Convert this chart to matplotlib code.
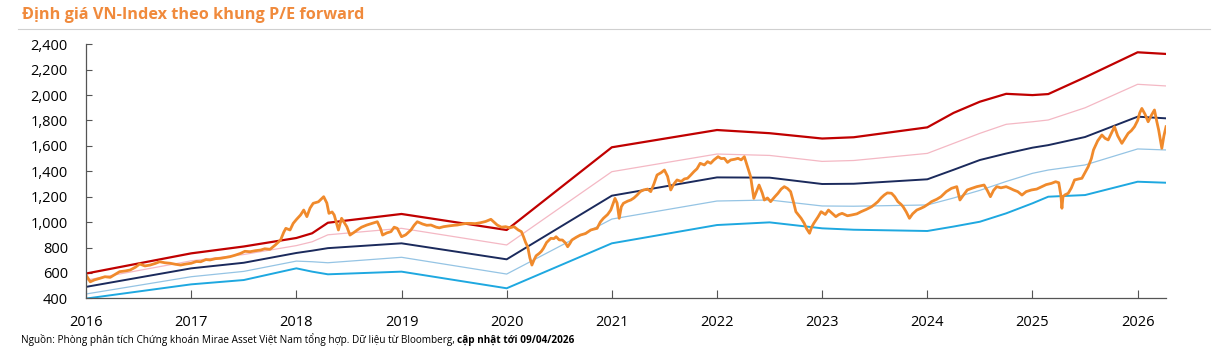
import matplotlib.pyplot as plt
from matplotlib.lines import Line2D

plt.rcParams['font.family'] = ['Open Sans', 'DejaVu Sans']

# band knots (decimal years) and values for each P/E band
band_t = [2016.0, 2017.0, 2017.5, 2018.0, 2018.15, 2018.3, 2019.0, 2020.0, 2021.0, 2022.0, 2022.5,
          2023.0, 2023.3, 2024.0, 2024.25, 2024.5, 2024.75, 2025.0, 2025.15, 2025.5, 2026.0, 2026.27]
band_red = [595, 754, 808, 875, 912, 995, 1064, 938, 1589, 1725, 1700,
            1658, 1668, 1746, 1860, 1948, 2010, 2000, 2008, 2140, 2337, 2324]
band_pink = [543, 695, 745, 815, 845, 900, 951, 820, 1397, 1536, 1525,
             1478, 1485, 1541, 1620, 1699, 1770, 1790, 1804, 1900, 2085, 2072]
band_navy = [490, 636, 680, 757, 775, 795, 833, 707, 1208, 1352, 1350,
             1300, 1302, 1337, 1412, 1489, 1540, 1586, 1606, 1670, 1830, 1817]
band_lblue = [434, 570, 612, 693, 688, 680, 723, 591, 1024, 1166, 1174,
              1127, 1125, 1135, 1190, 1250, 1320, 1384, 1410, 1450, 1576, 1568]
band_cyan = [398, 510, 544, 636, 610, 589, 610, 479, 833, 977, 998,
             951, 940, 930, 965, 1003, 1069, 1148, 1200, 1213, 1318, 1310]

# VN-Index
vn_t = [2016.00, 2016.04, 2016.08, 2016.13, 2016.18, 2016.23, 2016.28, 2016.32, 2016.37, 2016.42,
        2016.47, 2016.51, 2016.56, 2016.61, 2016.66, 2016.70, 2016.75, 2016.80, 2016.85, 2016.90,
        2016.95, 2017.00, 2017.05, 2017.09, 2017.14, 2017.18, 2017.23, 2017.28, 2017.33, 2017.37,
        2017.42, 2017.47, 2017.51, 2017.56, 2017.61, 2017.66, 2017.70, 2017.75, 2017.80, 2017.85,
        2017.88, 2017.90, 2017.94, 2017.97, 2018.00, 2018.04, 2018.07, 2018.10, 2018.13, 2018.16,
        2018.21, 2018.26, 2018.29, 2018.31, 2018.34, 2018.36, 2018.40, 2018.43, 2018.46, 2018.48,
        2018.51, 2018.55, 2018.58, 2018.62, 2018.67, 2018.72, 2018.77, 2018.80, 2018.82, 2018.86,
        2018.90, 2018.93, 2018.96, 2019.00, 2019.04, 2019.09, 2019.12, 2019.15, 2019.20, 2019.24,
        2019.28, 2019.33, 2019.36, 2019.40, 2019.45, 2019.50, 2019.53, 2019.58, 2019.62, 2019.66,
        2019.70, 2019.75, 2019.80, 2019.85, 2019.88, 2019.91, 2019.95, 2019.99, 2020.03, 2020.07,
        2020.11, 2020.14, 2020.16, 2020.18, 2020.20, 2020.22, 2020.24, 2020.26, 2020.28, 2020.31,
        2020.33, 2020.35, 2020.38, 2020.42, 2020.45, 2020.47, 2020.50, 2020.53, 2020.56, 2020.58,
        2020.60, 2020.62, 2020.66, 2020.70, 2020.75, 2020.80, 2020.83, 2020.86, 2020.89, 2020.92,
        2020.96, 2020.99, 2021.03, 2021.05, 2021.07, 2021.09, 2021.11, 2021.15, 2021.18, 2021.21,
        2021.24, 2021.27, 2021.30, 2021.34, 2021.37, 2021.40, 2021.43, 2021.47, 2021.50, 2021.53,
        2021.56, 2021.59, 2021.62, 2021.66, 2021.69, 2021.72, 2021.75, 2021.78, 2021.81, 2021.84,
        2021.88, 2021.91, 2021.94, 2021.97, 2022.01, 2022.04, 2022.07, 2022.10, 2022.13, 2022.17,
        2022.20, 2022.23, 2022.26, 2022.29, 2022.32, 2022.35, 2022.38, 2022.40, 2022.43, 2022.45,
        2022.48, 2022.51, 2022.55, 2022.58, 2022.61, 2022.64, 2022.67, 2022.70, 2022.73, 2022.75,
        2022.78, 2022.80, 2022.83, 2022.85, 2022.88, 2022.90, 2022.92, 2022.96, 2022.99, 2023.03,
        2023.06, 2023.10, 2023.13, 2023.16, 2023.19, 2023.24, 2023.28, 2023.33, 2023.37, 2023.42,
        2023.47, 2023.50, 2023.53, 2023.56, 2023.59, 2023.62, 2023.66, 2023.69, 2023.72, 2023.75,
        2023.77, 2023.80, 2023.83, 2023.86, 2023.90, 2023.94, 2023.97, 2024.02, 2024.04, 2024.09,
        2024.13, 2024.18, 2024.23, 2024.28, 2024.31, 2024.35, 2024.38, 2024.42, 2024.47, 2024.54,
        2024.57, 2024.60, 2024.63, 2024.66, 2024.70, 2024.75, 2024.79, 2024.82, 2024.86, 2024.90,
        2024.94, 2024.99, 2025.04, 2025.09, 2025.13, 2025.18, 2025.22, 2025.25, 2025.27, 2025.28,
        2025.29, 2025.31, 2025.34, 2025.37, 2025.40, 2025.44, 2025.47, 2025.50, 2025.53, 2025.56,
        2025.58, 2025.62, 2025.66, 2025.69, 2025.72, 2025.75, 2025.78, 2025.81, 2025.85, 2025.88,
        2025.91, 2025.94, 2025.97, 2026.00, 2026.02, 2026.04, 2026.07, 2026.10, 2026.13, 2026.16,
        2026.18, 2026.20, 2026.23, 2026.25, 2026.27]
vn_val = [583, 530, 545, 557, 570, 565, 590, 610, 615, 623,
          645, 670, 655, 662, 675, 688, 680, 676, 668, 662,
          670, 676, 690, 688, 705, 702, 712, 715, 722, 728,
          740, 754, 770, 767, 775, 780, 790, 786, 820, 859,
          920, 951, 938, 990, 1020, 1056, 1095, 1043, 1110, 1148,
          1160, 1200, 1150, 1069, 1080, 1056, 938, 1030, 990, 964,
          898, 920, 938, 960, 977, 990, 1003, 950, 898, 915,
          925, 960, 951, 885, 900, 938, 975, 1003, 985, 975,
          977, 960, 955, 964, 970, 975, 977, 985, 990, 990,
          988, 995, 1005, 1022, 1000, 977, 960, 964, 955, 964,
          938, 925, 885, 840, 806, 720, 662, 702, 735, 754,
          770, 794, 840, 872, 870, 885, 860, 859, 835, 806,
          830, 859, 880, 898, 910, 938, 945, 951, 1000, 1030,
          1060, 1095, 1187, 1150, 1030, 1120, 1148, 1165, 1174, 1190,
          1213, 1240, 1253, 1260, 1240, 1300, 1371, 1390, 1410, 1360,
          1253, 1300, 1332, 1320, 1340, 1345, 1370, 1397, 1420, 1463,
          1450, 1476, 1463, 1489, 1515, 1500, 1502, 1470, 1489, 1495,
          1502, 1490, 1515, 1436, 1357, 1187, 1250, 1292, 1230, 1174,
          1190, 1161, 1200, 1227, 1260, 1279, 1265, 1240, 1150, 1082,
          1050, 1030, 990, 951, 912, 960, 990, 1040, 1082, 1060,
          1095, 1065, 1043, 1060, 1069, 1050, 1056, 1065, 1082, 1100,
          1121, 1140, 1161, 1190, 1213, 1230, 1227, 1200, 1161, 1140,
          1121, 1080, 1030, 1065, 1095, 1109, 1121, 1148, 1161, 1180,
          1200, 1240, 1266, 1279, 1174, 1220, 1253, 1265, 1279, 1292,
          1250, 1200, 1250, 1279, 1270, 1279, 1265, 1253, 1240, 1213,
          1240, 1253, 1260, 1279, 1295, 1305, 1318, 1310, 1210, 1109,
          1200, 1215, 1227, 1270, 1332, 1340, 1345, 1390, 1436, 1500,
          1568, 1640, 1686, 1660, 1647, 1700, 1751, 1680, 1620, 1660,
          1699, 1720, 1751, 1800, 1860, 1895, 1850, 1790, 1840, 1883,
          1800, 1725, 1581, 1680, 1751]

year_ticks = list(range(2016, 2027))
y_ticks = list(range(400, 2401, 200))

fig = plt.figure(figsize=(12.22, 3.54), dpi=100)
ax = fig.add_axes([0.0704, 0.1573, 0.8838, 0.7176])

ax.plot(band_t, band_red, color='#C00000', lw=1.6)
ax.plot(band_t, band_pink, color='#F4B8C4', lw=0.9)
ax.plot(band_t, band_navy, color='#1B2A5C', lw=1.4)
ax.plot(band_t, band_lblue, color='#95C4E4', lw=0.9)
ax.plot(band_t, band_cyan, color='#1EA8E0', lw=1.4)
ax.plot(vn_t, vn_val, color='#F08A2C', lw=2.0)

ax.set_xlim(2016, 2026.27)
ax.set_ylim(400, 2400)
ax.set_xticks(year_ticks)
ax.set_yticks(y_ticks)
ax.set_yticklabels([f'{v:,}' for v in y_ticks])
ax.tick_params(axis='y', direction='in', length=4, pad=13, labelsize=10.5, color='#555555')
ax.tick_params(axis='x', direction='in', length=6, pad=12, labelsize=10.5, color='#555555')
for s in ['top', 'right']:
    ax.spines[s].set_visible(False)
for s in ['left', 'bottom']:
    ax.spines[s].set_color('#555555')
    ax.spines[s].set_linewidth(0.9)

fig.text(0.018, 0.958, 'Định giá VN-Index theo khung P/E forward', color='#F08A3C',
         fontsize=11.7, fontweight='bold', va='center', ha='left')
fig.add_artist(Line2D([0.015, 0.99], [0.917, 0.917], color='#D0D0D0', lw=0.8))

t1 = fig.text(0.017, 0.022, 'Nguồn: Phòng phân tích Chứng khoán Mirae Asset Việt Nam tổng hợp. '
              'Dữ liệu từ Bloomberg, ', fontsize=7.2, va='bottom', ha='left')
ax.annotate('cập nhật tới 09/04/2026', xy=(1, 0), xycoords=t1, fontsize=7.2,
            fontweight='bold', va='bottom', ha='left', annotation_clip=False)

fig.savefig('out.png', dpi=100)
